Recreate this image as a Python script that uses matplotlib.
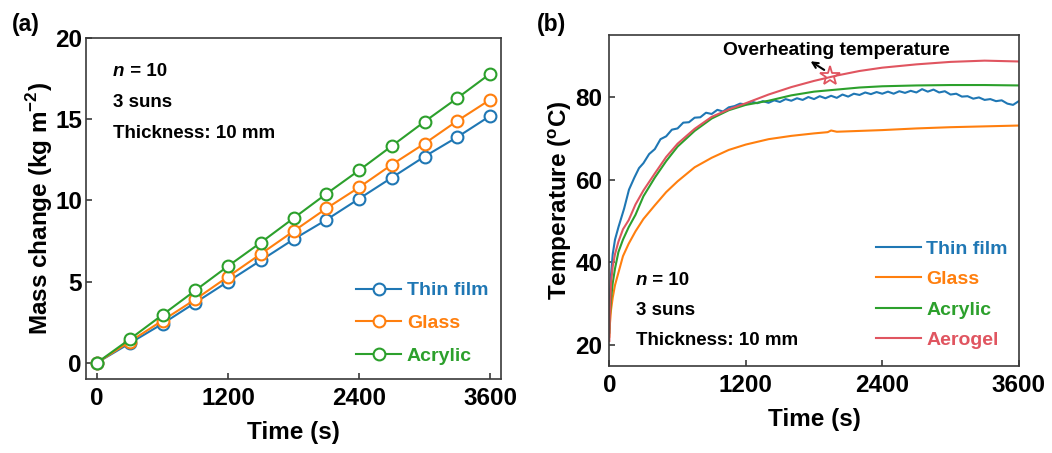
import matplotlib

matplotlib.use("Agg")
import matplotlib.pyplot as plt

plt.rcParams["font.family"] = ["Liberation Sans", "DejaVu Sans"]
plt.rcParams["font.weight"] = "bold"
plt.rcParams["mathtext.fontset"] = "custom"
plt.rcParams["mathtext.rm"] = "Liberation Sans:bold"
plt.rcParams["mathtext.bf"] = "Liberation Sans:bold"

# ---- (a) mass change ----
t_mass = [0, 300, 600, 900, 1200, 1500, 1800, 2100, 2400, 2700, 3000, 3300, 3600]
mass_film = [0, 1.2, 2.4, 3.7, 5.0, 6.3, 7.6, 8.8, 10.1, 11.4, 12.7, 13.9, 15.2]
mass_glass = [0, 1.3, 2.6, 3.9, 5.3, 6.7, 8.1, 9.5, 10.8, 12.2, 13.5, 14.9, 16.2]
mass_acryl = [0, 1.45, 2.95, 4.45, 5.95, 7.4, 8.9, 10.4, 11.85, 13.35, 14.85, 16.3, 17.8]

# ---- (b) temperature ----
t_smooth = [0, 5, 15, 30, 50, 80, 120, 170, 230, 300, 400, 500, 600, 750, 900,
            1050, 1200, 1400, 1600, 1800, 2000, 2200, 2400, 2700, 3000, 3300, 3600]
temp_aero = [21, 28, 35, 39, 42, 45, 48, 50.2, 54, 57.4, 61.5, 65.5, 68.7, 72.3, 75.2,
             77.0, 78.5, 80.6, 82.4, 83.9, 85.2, 86.3, 87.1, 87.9, 88.5, 88.8, 88.6]
temp_acryl = [23, 27, 31, 35, 38.5, 42.5, 45.5, 48.5, 51.5, 56, 60.5, 64.5, 68, 71.8, 74.8,
              76.8, 78.1, 79.1, 80.4, 81.3, 81.8, 82.3, 82.6, 82.8, 82.9, 82.9, 82.8]
t_glass = [0, 5, 15, 30, 50, 80, 120, 170, 230, 300, 400, 500, 600, 750, 900, 1050,
           1200, 1400, 1600, 1800, 1920, 1950, 2000, 2200, 2400, 2700, 3000, 3300, 3600]
temp_glass = [22, 25, 28.5, 31.5, 34.5, 37.5, 41.5, 44.5, 47.5, 50.5, 53.8, 57, 59.6, 63, 65.3, 67.2,
              68.5, 69.8, 70.6, 71.2, 71.5, 71.9, 71.6, 71.8, 72.0, 72.4, 72.7, 72.9, 73.1]
t_film = [0, 5, 15, 30, 50, 80, 100, 130, 173, 220, 261] + list(range(300, 3601, 50))
temp_film = [24, 31, 37, 42, 45.5, 48.5, 50.3, 53, 57.6, 60.5, 62.8,
             64.0, 66.2, 67.4, 69.8, 70.5, 72.1, 72.4, 73.8, 73.9, 75.0,
             75.1, 76.2, 75.9, 76.9, 76.5, 77.5, 77.8, 78.4, 78.2, 78.9,
             78.5, 79.0, 78.6, 79.2, 78.8, 79.5, 79.1, 79.7, 79.3, 80.0,
             79.5, 80.2, 79.7, 80.3, 79.8, 80.6, 80.1, 80.8, 80.5, 81.1,
             80.7, 81.2, 80.8, 81.3, 80.8, 81.4, 81.0, 81.5, 81.1, 81.9,
             81.3, 81.8, 81.1, 81.4, 80.6, 80.8, 80.1, 80.2, 79.6, 79.9,
             79.3, 79.5, 79.0, 79.2, 78.4, 78.1, 79.0]

star_t, star_T = 1940, 85.0
blue, orange, green, red = "#1f77b4", "#ff7f0e", "#2ca02c", "#e05560"
spine_c = "#3a3a3a"

fig = plt.figure(figsize=(10.52, 4.53), dpi=100)
axA = fig.add_axes([0.0818, 0.1634, 0.3945, 0.7528])
axB = fig.add_axes([0.5792, 0.1927, 0.3892, 0.7300])

for ax in (axA, axB):
    for sp in ax.spines.values():
        sp.set_color(spine_c)
        sp.set_linewidth(1.2)
    ax.tick_params(direction="in", length=4, width=1.2, color=spine_c,
                   labelsize=17.5)
    ax.tick_params(axis="x", pad=6)
axA.tick_params(axis="y", pad=3)
axB.tick_params(axis="y", pad=5)

TXT = 13.5


def n_block(ax, x, ys):
    t = ax.text(x, ys[0], "n", transform=ax.transAxes, fontsize=TXT,
                style="italic", fontweight="bold", va="center")
    ax.annotate(" = 10", xy=(1, 0.5), xycoords=t, fontsize=TXT,
                fontweight="bold", va="center")
    ax.text(x, ys[1], "3 suns", transform=ax.transAxes, fontsize=TXT,
            fontweight="bold", va="center")
    ax.text(x, ys[2], "Thickness: 10 mm", transform=ax.transAxes, fontsize=TXT,
            fontweight="bold", va="center")


# (a)
mk = dict(marker="o", ms=8.5, mfc="white", mew=1.5, lw=1.5)
axA.plot(t_mass, mass_film, color=blue, label="Thin film", **mk)
axA.plot(t_mass, mass_glass, color=orange, label="Glass", **mk)
axA.plot(t_mass, mass_acryl, color=green, label="Acrylic", **mk)
axA.set_xlim(-100, 3700)
axA.set_ylim(-1, 20)
axA.set_xticks([0, 1200, 2400, 3600])
axA.set_yticks([0, 5, 10, 15, 20])
axA.set_xlabel("Time (s)", fontsize=17.5, fontweight="bold", labelpad=8)
axA.set_ylabel("Mass change (kg m$^{-2}$)", fontsize=17.5, fontweight="bold", labelpad=0)
n_block(axA, 0.065, (0.903, 0.812, 0.721))
axA.legend(loc="upper left", bbox_to_anchor=(0.651, 0.285), frameon=False,
           handlelength=2.3, handletextpad=0.3, labelspacing=0.78,
           borderpad=0, borderaxespad=0, labelcolor="linecolor",
           prop={"weight": "bold", "size": 14})

# (b)
axB.plot(t_film, temp_film, color=blue, lw=1.5, label="Thin film")
axB.plot(t_glass, temp_glass, color=orange, lw=1.5, label="Glass")
axB.plot(t_smooth, temp_acryl, color=green, lw=1.5, label="Acrylic")
axB.plot(t_smooth, temp_aero, color=red, lw=1.5, label="Aerogel")
axB.plot([star_t], [star_T], marker="*", ms=15, mfc="none", mec=red, mew=1.3)
axB.annotate("", xy=(1749, 89.0), xytext=(1910, 86.2),
             arrowprops=dict(arrowstyle="->", lw=1.5, color="black"))
axB.text(2000, 91.2, "Overheating temperature", fontsize=13.8, fontweight="bold",
         ha="center", va="center")
axB.set_xlim(0, 3600)
axB.set_ylim(15, 95)
axB.set_xticks([0, 1200, 2400, 3600])
axB.set_yticks([20, 40, 60, 80])
axB.set_xlabel("Time (s)", fontsize=17.5, fontweight="bold", labelpad=8)
axB.set_ylabel("Temperature ($^{\\rm o}$C)", fontsize=17.5, fontweight="bold", labelpad=1)
n_block(axB, 0.065, (0.259, 0.168, 0.076))
axB.legend(loc="upper left", bbox_to_anchor=(0.651, 0.38), frameon=False,
           handlelength=2.3, handletextpad=0.3, labelspacing=0.66,
           borderpad=0, borderaxespad=0, labelcolor="linecolor",
           prop={"weight": "bold", "size": 14})

fig.text(0.011, 0.945, "(a)", fontsize=16.5, fontweight="bold", va="center")
fig.text(0.510, 0.945, "(b)", fontsize=16.5, fontweight="bold", va="center")

fig.savefig("out.png", dpi=100)
